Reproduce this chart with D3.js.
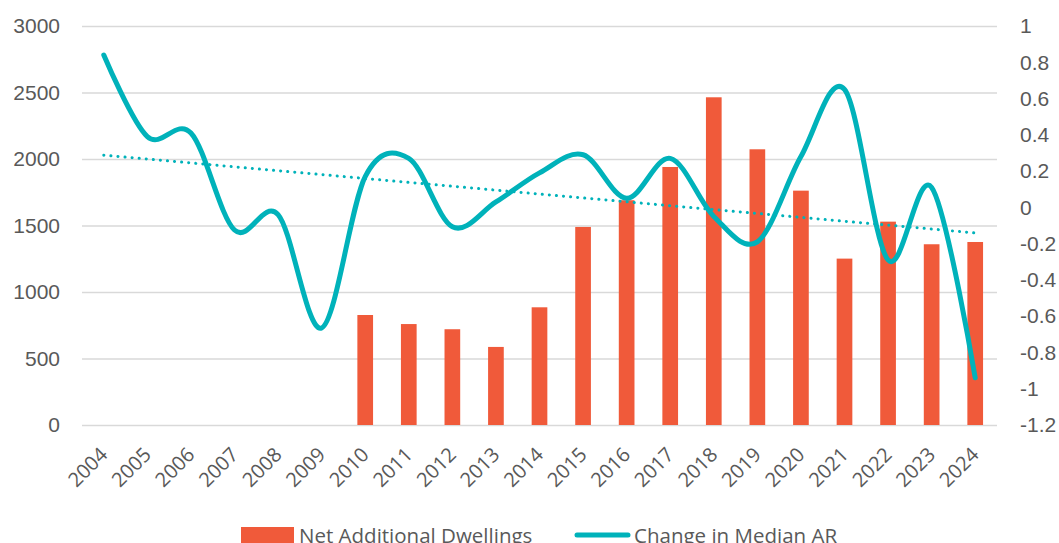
<!DOCTYPE html>
<html>
<head>
<meta charset="utf-8">
<script src="https://cdn.jsdelivr.net/npm/d3@7"></script>
<style>
  body { margin: 0; background: #fff; }
  svg { display: block; }
</style>
</head>
<body>
<div id="chart"></div>
<script>
// data
var years = ["2004", "2005", "2006", "2007", "2008", "2009", "2010", "2011", "2012", "2013", "2014",
             "2015", "2016", "2017", "2018", "2019", "2020", "2021", "2022", "2023", "2024"];
var dwellings = [null, null, null, null, null, null, 827, 759, 720, 587, 885,
                 1489, 1690, 1940, 2464, 2073, 1762, 1251, 1529, 1359, 1376];
var medianAR = [0.84, 0.39, 0.41, -0.125, -0.04, -0.665, 0.17, 0.27, -0.107, 0.03, 0.19,
                0.29, 0.05, 0.27, -0.05, -0.19, 0.28, 0.65, -0.29, 0.11, -0.94];
var leftTicks = [0, 500, 1000, 1500, 2000, 2500, 3000];
var rightTicks = [1, 0.8, 0.6, 0.4, 0.2, 0, -0.2, -0.4, -0.6, -0.8, -1, -1.2];
var seriesNames = ["Net Additional Dwellings", "Change in Median AR"];

var barColor = "#F05A3A",
    lineColor = "#00B2BA",
    textColor = "#595959",
    gridColor = "#D9D9D9";

var width = 1059, height = 543;
var margin = {top: 26, right: 62, bottom: 118, left: 82};

var svg = d3.select("#chart").append("svg")
    .attr("width", width)
    .attr("height", height);

var x = d3.scaleBand()
    .domain(years)
    .range([margin.left, width - margin.right])
    .paddingInner(0.64)
    .paddingOuter(0.32);

var yLeft = d3.scaleLinear().domain([0, 3000]).range([height - margin.bottom, margin.top]);
var yRight = d3.scaleLinear().domain([-1.2, 1]).range([height - margin.bottom, margin.top]);

function cx(d) { return x(d) + x.bandwidth() / 2; }

// gridlines + left axis
var leftAxis = svg.append("g")
    .attr("transform", "translate(" + margin.left + ",0)")
    .call(d3.axisLeft(yLeft).tickValues(leftTicks).tickFormat(d3.format("d"))
          .tickSize(-(width - margin.left - margin.right)).tickPadding(22));
leftAxis.select(".domain").remove();
leftAxis.selectAll(".tick line").attr("stroke", gridColor).attr("stroke-width", 1.5);
leftAxis.selectAll(".tick text")
    .attr("fill", textColor)
    .style("font-family", "'Liberation Sans', Arial, sans-serif")
    .style("font-size", "21px");

// right axis, labels only
var rightAxis = svg.append("g")
    .attr("transform", "translate(" + (width - margin.right) + ",0)")
    .call(d3.axisRight(yRight).tickValues(rightTicks).tickSize(0).tickPadding(23)
          .tickFormat(function(d) { return String(d); }));
rightAxis.select(".domain").remove();
rightAxis.selectAll(".tick text")
    .attr("fill", textColor)
    .style("font-family", "'Liberation Sans', Arial, sans-serif")
    .style("font-size", "21px");

// x labels
svg.append("g").selectAll("text")
    .data(years)
  .enter().append("text")
    .attr("transform", function(d) { return "translate(" + (cx(d) + 5) + "," + 456 + ") rotate(-45)"; })
    .attr("text-anchor", "end")
    .attr("fill", textColor)
    .style("font-family", "'Open Sans', sans-serif")
    .style("font-size", "20px")
    .text(function(d) { return d; });

// bars
svg.append("g").selectAll("rect")
    .data(years.map(function(y, i) { return {year: y, value: dwellings[i]}; })
              .filter(function(d) { return d.value != null; }))
  .enter().append("rect")
    .attr("x", function(d) { return x(d.year); })
    .attr("y", function(d) { return yLeft(d.value); })
    .attr("width", x.bandwidth())
    .attr("height", function(d) { return yLeft(0) - yLeft(d.value); })
    .attr("fill", barColor);

// smoothed line
var lineData = years.map(function(y, i) { return {year: y, value: medianAR[i]}; });
var line = d3.line()
    .x(function(d) { return cx(d.year); })
    .y(function(d) { return yRight(d.value); })
    .curve(d3.curveCatmullRom.alpha(0));

svg.append("path")
    .datum(lineData)
    .attr("d", line)
    .attr("fill", "none")
    .attr("stroke", lineColor)
    .attr("stroke-width", 5)
    .attr("stroke-linecap", "round")
    .attr("stroke-linejoin", "round");

// linear trendline (least squares)
var n = medianAR.length;
var meanX = (n - 1) / 2, meanY = d3.mean(medianAR);
var sxy = 0, sxx = 0;
medianAR.forEach(function(v, i) { sxy += (i - meanX) * (v - meanY); sxx += (i - meanX) * (i - meanX); });
var slope = sxy / sxx, intercept = meanY - slope * meanX;
var trend = [0, n - 1].map(function(i) { return {year: years[i], value: intercept + slope * i}; });

svg.append("path")
    .datum(trend)
    .attr("d", d3.line().x(function(d) { return cx(d.year); }).y(function(d) { return yRight(d.value); }))
    .attr("fill", "none")
    .attr("stroke", lineColor)
    .attr("stroke-width", 3)
    .attr("stroke-linecap", "round")
    .attr("stroke-dasharray", "0.1 7");

// legend
var legend = svg.append("g");
legend.append("rect")
    .attr("x", 241).attr("y", 527)
    .attr("width", 53).attr("height", 20)
    .attr("fill", barColor);
legend.append("text")
    .attr("x", 299).attr("y", 543)
    .attr("fill", textColor)
    .style("font-family", "'Open Sans', sans-serif")
    .style("font-size", "20.5px")
    .text(seriesNames[0]);
legend.append("line")
    .attr("x1", 577).attr("x2", 628)
    .attr("y1", 535).attr("y2", 535)
    .attr("stroke", lineColor)
    .attr("stroke-width", 5)
    .attr("stroke-linecap", "round");
legend.append("text")
    .attr("x", 634).attr("y", 543)
    .attr("fill", textColor)
    .style("font-family", "'Open Sans', sans-serif")
    .style("font-size", "20.5px")
    .text(seriesNames[1]);
</script>
</body>
</html>
